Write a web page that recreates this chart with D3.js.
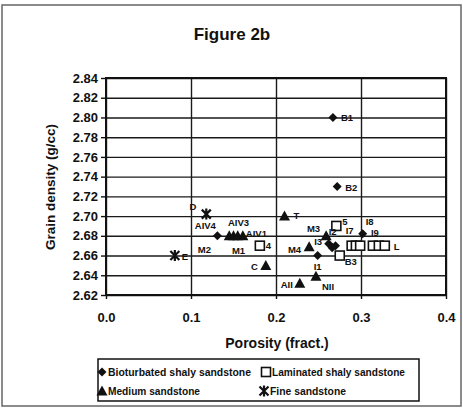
<!DOCTYPE html>
<html>
<head>
<meta charset="utf-8">
<script src="https://d3js.org/d3.v7.min.js"></script>
<style>
  body { margin: 0; padding: 0; background: #fff; }
  text { font-family: "Liberation Sans", Arial, sans-serif; fill: #111; }
</style>
</head>
<body>
<div id="my_dataviz"></div>
<script>
// series values: [label, porosity, grain density]
var bioturbated = [
  ["B1", 0.267, 2.800], ["B2", 0.272, 2.730], ["AIV4", 0.131, 2.680],
  ["I1", 0.249, 2.660], ["I2", 0.262, 2.672], ["", 0.266, 2.668],
  ["", 0.270, 2.670], ["I8", 0.302, 2.682]
];
var laminated = [
  ["4", 0.181, 2.670], ["5", 0.271, 2.690], ["B3", 0.275, 2.660],
  ["I7", 0.289, 2.670], ["", 0.294, 2.670], ["", 0.299, 2.670],
  ["I9", 0.314, 2.670], ["", 0.321, 2.670], ["L", 0.328, 2.670]
];
var medium = [
  ["T", 0.210, 2.700], ["M3", 0.259, 2.680], ["I3", 0.239, 2.669],
  ["C", 0.188, 2.650], ["AII", 0.228, 2.632], ["NII", 0.247, 2.639],
  ["", 0.145, 2.680], ["AIV3", 0.150, 2.680], ["", 0.155, 2.680],
  ["AIV1", 0.161, 2.680]
];
var fine = [["D", 0.118, 2.702], ["E", 0.081, 2.660]];

// extra labels with no own marker, tied to a neighbouring point
var extraLabels = [["M2", 0.131, 2.680], ["M1", 0.150, 2.680], ["M4", 0.239, 2.669]];

var xTicks = [0.0, 0.1, 0.2, 0.3, 0.4];
var yTicks = [2.62, 2.64, 2.66, 2.68, 2.70, 2.72, 2.74, 2.76, 2.78, 2.80, 2.82, 2.84];
var seriesNames = ["Bioturbated shaly sandstone", "Laminated shaly sandstone", "Medium sandstone", "Fine sandstone"];

// label offsets in pixels [dx, dy, anchor]
var labelPos = {
  B1: [8, 4, "start"], B2: [8, 4, "start"], AIV4: [-12, -7, "middle"],
  I1: [0, 14, "middle"], I2: [4, -9, "middle"], I8: [3, -9, "start"],
  "4": [6, 3, "start"], "5": [6, -1, "start"], B3: [5, 9, "start"],
  I7: [-6, -12, "start"], I9: [-2, -10, "start"], L: [9, 4, "start"],
  T: [9, 3, "start"], M3: [-6, -4, "end"], I3: [5, -2, "start"],
  C: [-8, 5, "end"], AII: [-7, 5, "end"], NII: [6, 14, "start"],
  AIV3: [5, -10, "middle"], AIV1: [3, 1, "start"],
  D: [-10, -4, "end"], E: [7, 4, "start"],
  M2: [-13, 17, "middle"], M1: [5, 18, "middle"], M4: [-8, 6, "end"]
};

var W = 463, H = 408;
var plotLeft = 106, plotRight = 446, plotTop = 78, plotBottom = 295;

var svg = d3.select("#my_dataviz").append("svg")
  .attr("width", W).attr("height", H);

// scanned page frame
svg.append("rect").attr("x", 2).attr("y", 5).attr("width", W - 4).attr("height", H - 7)
  .attr("fill", "none").attr("stroke", "#666").attr("stroke-width", 1.5);

var x = d3.scaleLinear().domain([0, 0.4]).range([plotLeft, plotRight]);
var y = d3.scaleLinear().domain([2.62, 2.84]).range([plotBottom, plotTop]);

// grid, drawn with axes whose ticks span the plot
svg.append("g").attr("class", "grid").attr("transform", "translate(" + plotLeft + ",0)")
  .call(d3.axisLeft(y).tickValues(yTicks).tickSize(-(plotRight - plotLeft)).tickFormat(""));
svg.append("g").attr("class", "grid").attr("transform", "translate(0," + plotBottom + ")")
  .call(d3.axisBottom(x).tickValues(xTicks).tickSize(-(plotBottom - plotTop)).tickFormat(""));
svg.selectAll(".grid .domain").remove();
svg.selectAll(".grid line").attr("stroke", "#1a1a1a").attr("stroke-width", 1.4);

// axes
var yAxis = svg.append("g").attr("transform", "translate(" + plotLeft + ",0)")
  .call(d3.axisLeft(y).tickValues(yTicks).tickFormat(d3.format(".2f")).tickSize(5).tickPadding(3));
var xAxis = svg.append("g").attr("transform", "translate(0," + plotBottom + ")")
  .call(d3.axisBottom(x).tickValues(xTicks).tickFormat(d3.format(".1f")).tickSize(4).tickPadding(14));
[yAxis, xAxis].forEach(function (a) {
  a.select(".domain").remove();
  a.selectAll("line").attr("stroke", "#111").attr("stroke-width", 1.4);
  a.selectAll("text").style("font-size", "13px").style("font-weight", "bold")
    .style("font-family", "'Liberation Sans', Arial, sans-serif").attr("fill", "#111");
});

svg.append("rect").attr("x", plotLeft).attr("y", plotTop)
  .attr("width", plotRight - plotLeft).attr("height", plotBottom - plotTop)
  .attr("fill", "none").attr("stroke", "#111").attr("stroke-width", 2);

// titles
svg.append("text").attr("x", 232).attr("y", 40).attr("text-anchor", "middle")
  .style("font-size", "17px").style("font-weight", "bold").text("Figure 2b");
svg.append("text").attr("x", 277).attr("y", 348).attr("text-anchor", "middle")
  .style("font-size", "14px").style("font-weight", "bold").text("Porosity (fract.)");
svg.append("text").attr("transform", "translate(55,187) rotate(-90)").attr("text-anchor", "middle")
  .style("font-size", "13.5px").style("font-weight", "bold").text("Grain density (g/cc)");

// marker shapes
function diamond(g) {
  g.append("path").attr("d", "M0,-4.5L4.5,0L0,4.5L-4.5,0Z").attr("fill", "#111");
}
function square(g) {
  g.append("rect").attr("x", -4.5).attr("y", -4.5).attr("width", 9).attr("height", 9)
    .attr("fill", "#fff").attr("stroke", "#111").attr("stroke-width", 1.6);
}
function triangle(g) {
  g.append("path").attr("d", "M0,-5.5L5.5,4.5L-5.5,4.5Z").attr("fill", "#111");
}
function star(g) {
  g.append("path").attr("d", "M-4.5,-4.5L4.5,4.5M-4.5,4.5L4.5,-4.5M0,-5.5L0,5.5")
    .attr("stroke", "#111").attr("stroke-width", 2.2).attr("fill", "none");
}
var shapes = [diamond, square, triangle, star];

var pts = svg.append("g");
[bioturbated, laminated, medium, fine].forEach(function (series, i) {
  pts.append("g").selectAll("g").data(series).enter().append("g")
    .attr("transform", d => "translate(" + x(d[1]) + "," + y(d[2]) + ")")
    .each(function () { shapes[i](d3.select(this)); });
});

// point labels
var allLabelled = [].concat(bioturbated, laminated, medium, fine, extraLabels).filter(d => d[0] !== "");
svg.append("g").selectAll("text").data(allLabelled).enter().append("text")
  .attr("x", d => x(d[1]) + labelPos[d[0]][0])
  .attr("y", d => y(d[2]) + labelPos[d[0]][1])
  .attr("text-anchor", d => labelPos[d[0]][2])
  .style("font-size", "9.5px").style("font-weight", "bold")
  .text(d => d[0]);

// legend
var lg = svg.append("g");
lg.append("rect").attr("x", 98).attr("y", 359).attr("width", 321).attr("height", 42)
  .attr("fill", "#fff").attr("stroke", "#111").attr("stroke-width", 1.5);
var legPos = [[102, 372], [266, 372], [102, 391], [264, 391]];
var legWidth = [143, 133, 92, 76];
seriesNames.forEach(function (name, i) {
  var g = lg.append("g").attr("transform", "translate(" + legPos[i][0] + "," + legPos[i][1] + ")");
  shapes[i](g);
  g.append("text").attr("x", 6).attr("y", 3.5)
    .attr("textLength", legWidth[i]).attr("lengthAdjust", "spacingAndGlyphs")
    .style("font-size", "10px").style("font-weight", "bold").text(name);
});
</script>
</body>
</html>
